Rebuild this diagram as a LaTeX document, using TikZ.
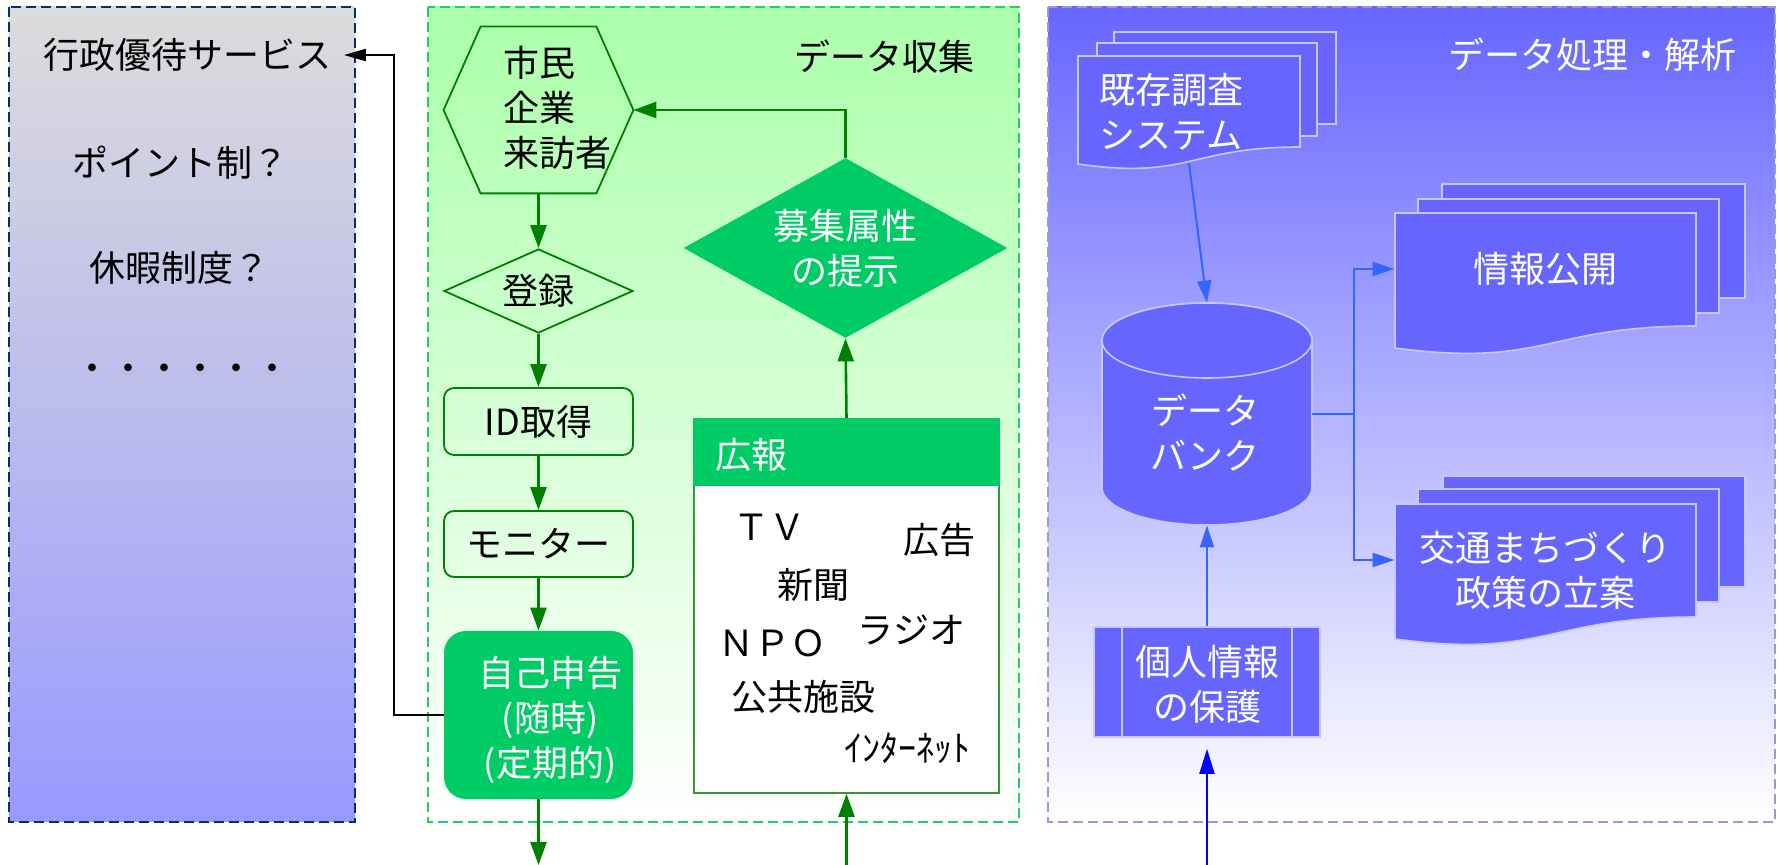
\documentclass[tikz,border=0pt]{standalone}
\usepackage{fontspec}
\setmainfont{Noto Sans CJK JP}
\usetikzlibrary{arrows.meta,shapes.geometric,calc}
\definecolor{gfill}{HTML}{00CC66}
\definecolor{gline}{HTML}{008000}
\definecolor{gbord}{HTML}{22CC66}
\definecolor{bfill}{HTML}{6666FF}
\definecolor{bstroke}{HTML}{C8C8FF}
\definecolor{barrow}{HTML}{3366FF}
\definecolor{lbord}{HTML}{003366}
\definecolor{rbord}{HTML}{9999CC}
\definecolor{ltop}{HTML}{DCDCDC}
\definecolor{lbot}{HTML}{9999FF}
\definecolor{gtop}{HTML}{AAFFAA}
\definecolor{kbord}{HTML}{339933}
\begin{document}
\begin{tikzpicture}[x=0.5pt,y=-0.5pt,
  every node/.style={font=\fontsize{18}{22.5}\selectfont, inner sep=0pt},
  panel/.style={dash pattern=on 5pt off 2.5pt, line width=0.8pt},
  gshape/.style={draw=gline, line width=0.9pt},
  gbox/.style={gshape, rounded corners=5pt, minimum width=94.5pt},
  garrow/.style={draw=gline, line width=1.3pt, -{Triangle[length=11.5pt,width=8pt]}},
  barrowst/.style={draw=barrow, line width=1pt, -{Triangle[length=11pt,width=7pt]}},
  darrow/.style={draw=blue, line width=1pt, -{Triangle[length=12.5pt,width=7.5pt]}},
  karrow/.style={draw=black, line width=1pt, -{Triangle[length=11pt,width=6pt]}},
  doc/.style={fill=bfill, draw=bstroke, line width=0.8pt},
  wtext/.style={text=white},
]
\useasboundingbox (0,0) rectangle (1779,865);
% panels
\shade[top color=ltop, bottom color=lbot] (9,7) rectangle (355,822);
\draw[panel, lbord] (9,7) rectangle (355,822);
\shade[top color=gtop, bottom color=white] (428,7) rectangle (1019,822);
\draw[panel, gbord] (428,7) rectangle (1019,822);
\shade[top color=bfill, bottom color=white] (1048,7) rectangle (1775,822);
\draw[panel, rbord] (1048,7) rectangle (1775,822);

% left panel
\node[inner xsep=6pt] (gyosei) at (187.5,55) {行政優待サービス};
\node (point) at (180,163) {ポイント制？};
\node (kyuka) at (179,268) {休暇制度？};
\node (dots) at (182,373) {・・・・・・};

% green panel
\node (t1) at (884,57) {データ収集};
\node[minimum width=94.5pt, minimum height=83pt] (hex) at (538.5,110) {};
\draw[gshape] (hex.west) -- ($(hex.north west)+(37,0)$) -- ($(hex.north east)+(-37,0)$) -- (hex.east) -- ($(hex.south east)+(-37,0)$) -- ($(hex.south west)+(37,0)$) -- cycle;
\node[align=left, anchor=west] (hextext) at (503,108) {市民\\企業\\来訪者};
\node[diamond, aspect=2.25, gshape, minimum width=94.5pt, minimum height=42pt] (reg) at (538.5,291) {登録};
\node[gbox, minimum height=33.5pt] (id) at (538.5,421.5) {ID取得};
\node[gbox, minimum height=33pt] (mon) at (538.5,544) {モニター};
\node[fill=gfill, rounded corners=11pt, minimum width=94.5pt, minimum height=84pt] (self) at (538.5,715) {};
\node[wtext, align=center] (selftext) at (550,720) {自己申告\\(随時)\\(定期的)};
\node[diamond, aspect=1.8, fill=gfill, minimum width=162pt, minimum height=90pt, wtext, align=center] (bosyu) at (845.5,248) {募集属性\\の提示};
\node[draw=kbord, fill=white, line width=0.8pt, minimum width=152.5pt, minimum height=187pt] (kouhou) at (846.5,606) {};
\fill[gfill] (kouhou.north west) rectangle ($(kouhou.north east)+(0,68)$);
\node[wtext, anchor=west] (kouhoutitle) at (715,455) {広報};
\node (tv) at (769.5,527) {ＴＶ};
\node (koukoku) at (939.5,540) {広告};
\node (shinbun) at (813.5,585) {新聞};
\node (npo) at (772.5,643) {ＮＰＯ};
\node (radio) at (911.5,630) {ラジオ};
\node (shisetsu) at (803,697) {公共施設};
\node (inet) at (907.5,748) {ｲﾝﾀｰﾈｯﾄ};

\draw[garrow] (hex.south) -- (reg.north);
\draw[garrow] (reg.south) -- (id.north);
\draw[garrow] (id.south) -- (mon.north);
\draw[garrow] (mon.south) -- (self.north);
\coordinate (selfout) at (538.5,865);
\draw[garrow] (self.south) -- (selfout);
\coordinate (kouhouin) at (846.5,865);
\draw[garrow] (kouhouin) -- (kouhou.south);
\draw[garrow] (kouhou.north) -- (bosyu.south);
\draw[garrow] (bosyu.north) |- (hex.east);
\draw[karrow] (self.west) -- ++(-50,0) |- (gyosei.east);

% right panel
\node[wtext] (t2) at (1592,55) {データ処理・解析};
\filldraw[doc] (1114,32) rectangle (1336,124);
\filldraw[doc] (1097,43) rectangle (1317,136);
\filldraw[doc] (1078,56) -- (1300,56) -- (1300,147) .. controls (1189,147) and (1189,180) .. (1078,164) -- cycle;
\node[minimum width=111pt, minimum height=53.5pt] (kizon) at (1189,109.5) {};
\node[wtext, align=left, anchor=west] (kizontext) at (1099,112) {既存調査\\システム};

\node[minimum width=105pt, minimum height=111pt] (db) at (1207,414) {};
\filldraw[doc] (1102,340.5) -- (1102,487.5) arc[start angle=180, end angle=0, x radius=105, y radius=37.5] -- (1312,340.5) arc[start angle=0, end angle=-180, x radius=105, y radius=37.5] -- cycle;
\filldraw[doc] (1207,340.5) ellipse[x radius=105, y radius=37.5];
\node[wtext, align=center] (dbtext) at (1205,432) {データ\\バンク};

\filldraw[doc] (1442,184) rectangle (1745,298);
\filldraw[doc] (1418,199) rectangle (1719,313);
\filldraw[doc] (1395,213) -- (1696,213) -- (1696,326) .. controls (1545.5,326) and (1545.5,368) .. (1395,348) -- cycle;
\node[minimum width=150.5pt, minimum height=56pt, wtext] (jouhou) at (1545.5,269) {情報公開};

\filldraw[doc] (1443,476) rectangle (1745,587);
\filldraw[doc] (1418,489) rectangle (1719,602);
\filldraw[doc] (1395,504) -- (1696,504) -- (1696,617) .. controls (1545.5,617) and (1545.5,659) .. (1395,639) -- cycle;
\node[minimum width=150.5pt, minimum height=56pt] (koutsu) at (1545.5,560) {};
\node[wtext, align=center] (koutsutext) at (1545,570) {交通まちづくり\\政策の立案};

\node[doc, minimum width=113pt, minimum height=55pt] (kojin) at (1207,682) {};
\draw[bstroke, line width=0.8pt] ($(kojin.north west)+(29,0)$) -- ($(kojin.south west)+(29,0)$);
\draw[bstroke, line width=0.8pt] ($(kojin.north east)+(-29,0)$) -- ($(kojin.south east)+(-29,0)$);
\node[wtext, align=center] (kojintext) at (1207,684.5) {個人情報\\の保護};

\draw[barrowst] (kizon.south) -- (db.north);
\draw[barrowst] (kojin.north) -- (db.south);
\coordinate (split) at (1354,414);
\draw[draw=barrow, line width=1pt] (db.east) -- (split);
\draw[barrowst] (split) |- (jouhou.west);
\draw[barrowst] (split) |- (koutsu.west);
\coordinate (kojinin) at (1207,865);
\draw[darrow, shorten >=5.5pt] (kojinin) -- (kojin.south);
\end{tikzpicture}
\end{document}
